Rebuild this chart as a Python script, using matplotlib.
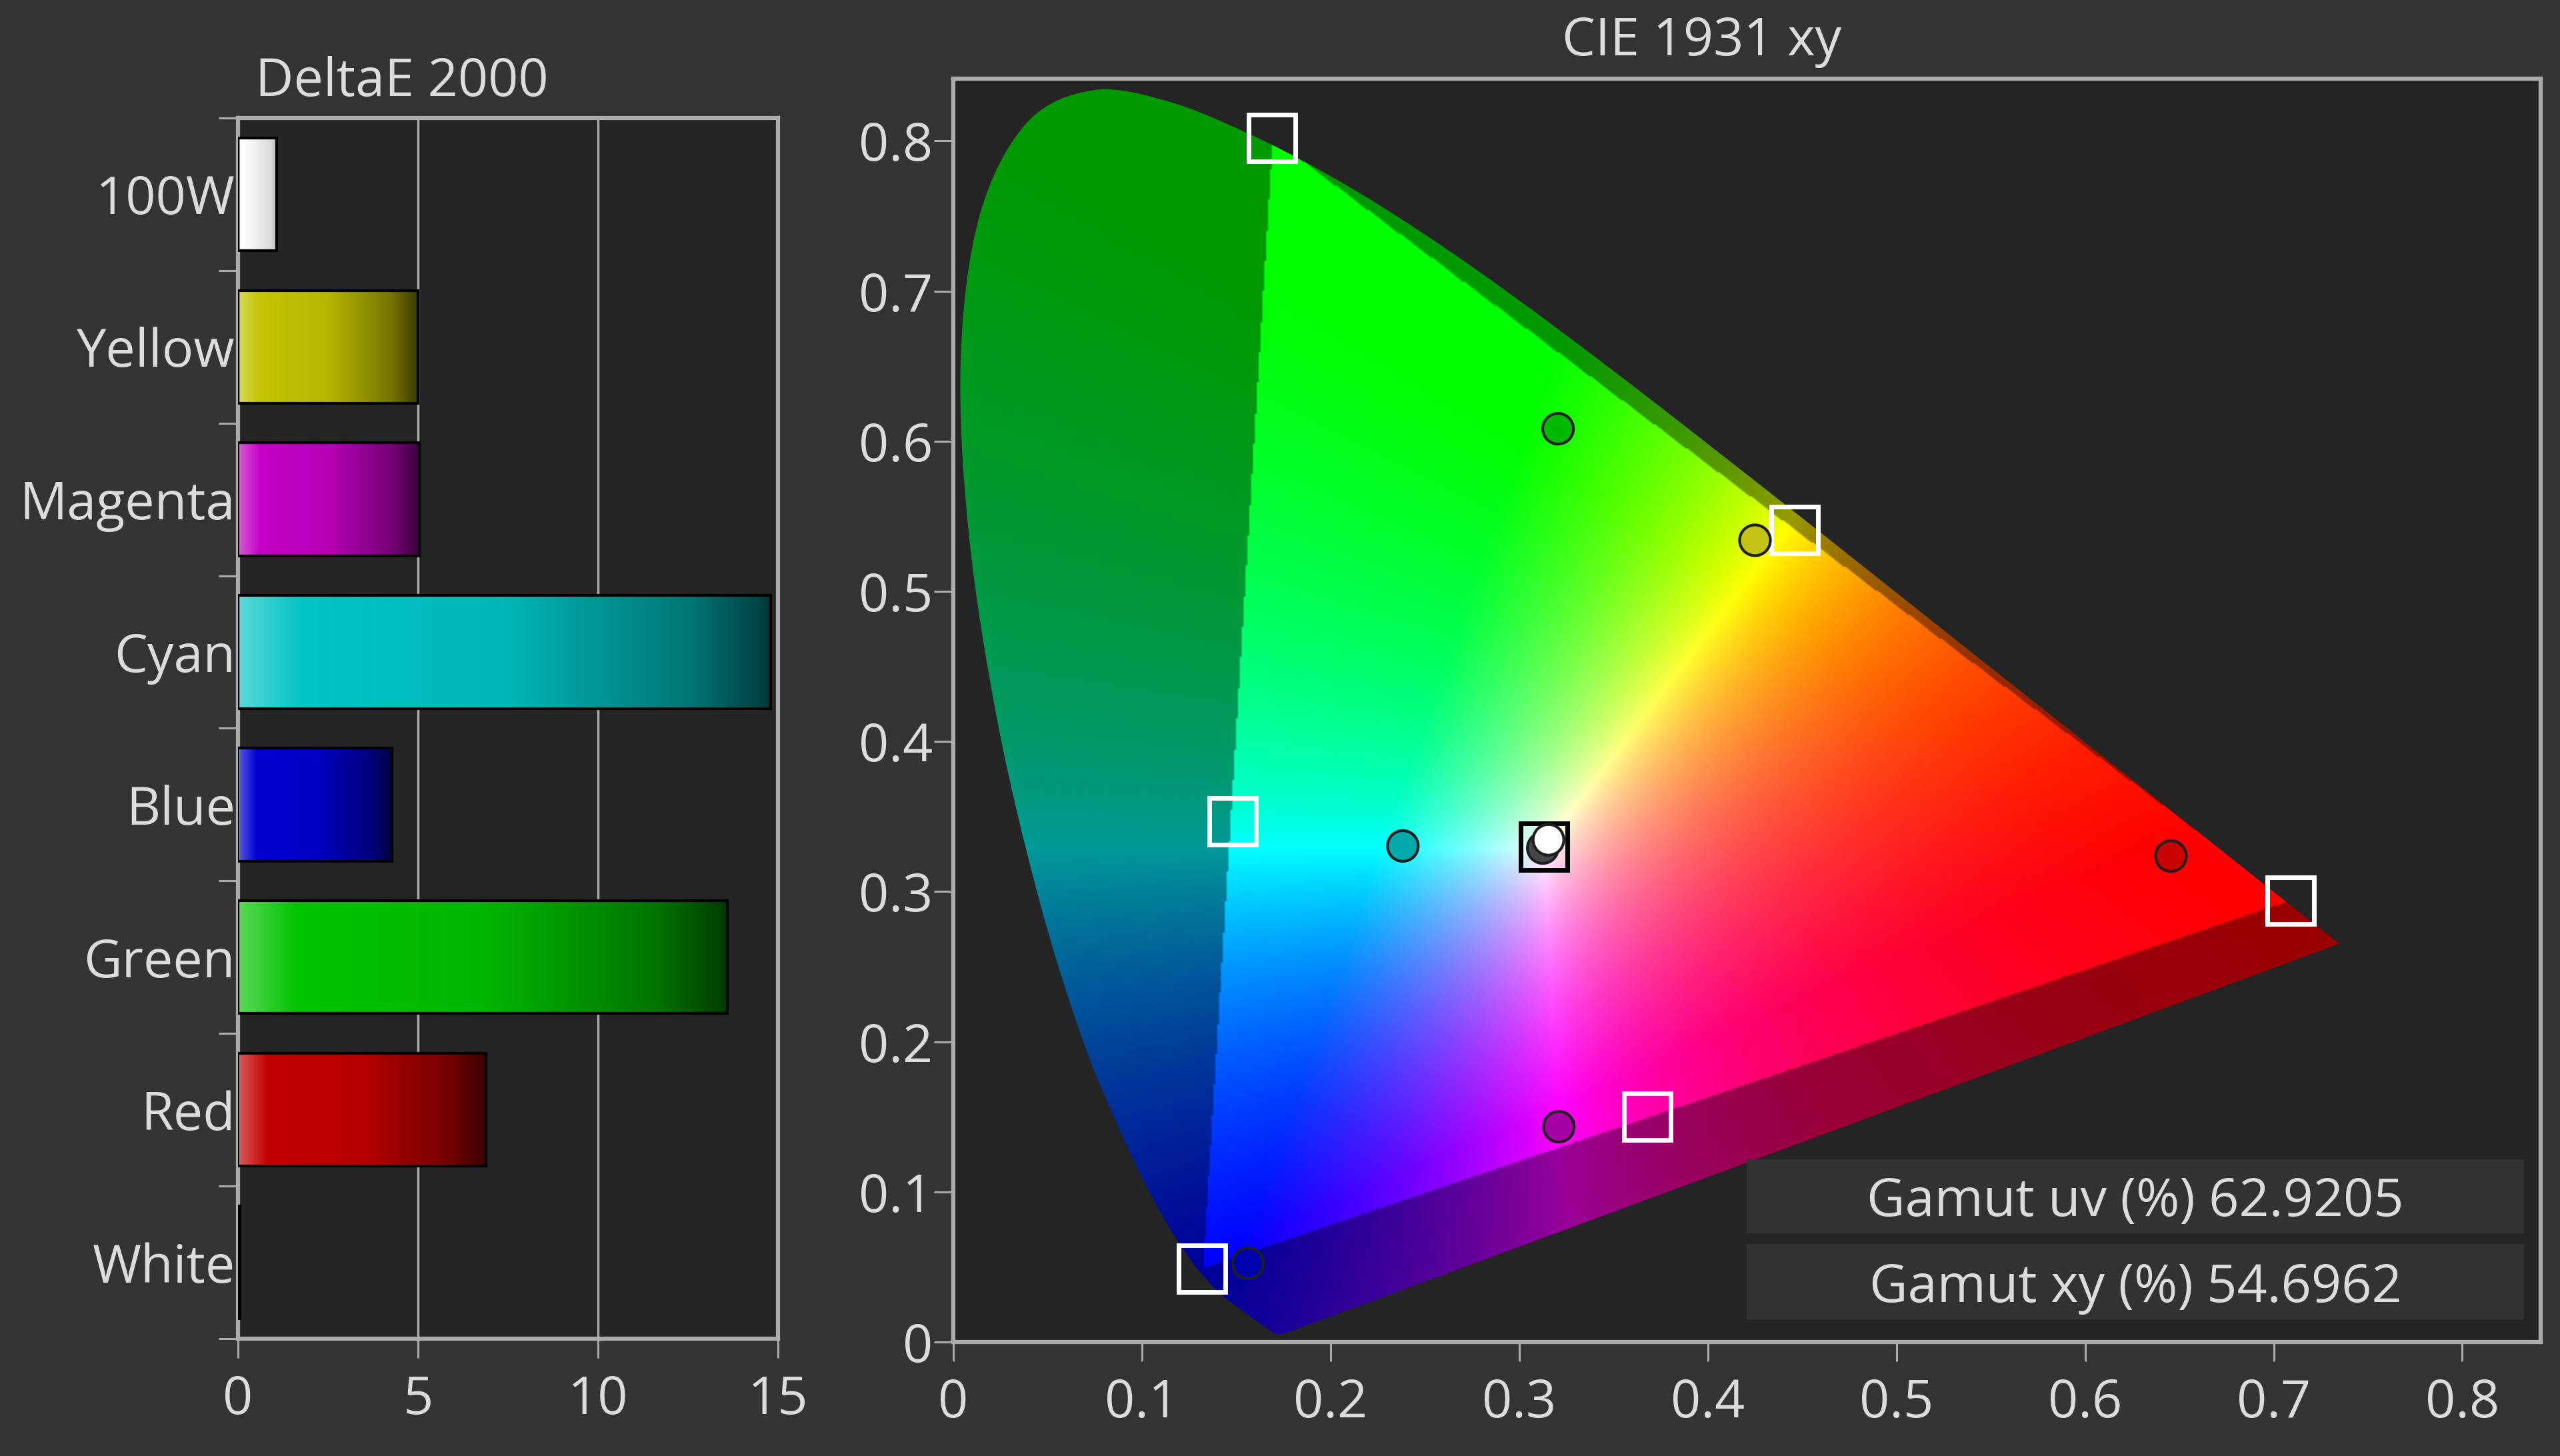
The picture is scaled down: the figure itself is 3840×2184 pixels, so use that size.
"""DeltaE 2000 bars + CIE 1931 xy gamut plot, dark calibration-report style."""

import numpy as np
import matplotlib
matplotlib.use("Agg")
import matplotlib.pyplot as plt
from matplotlib.colors import LinearSegmentedColormap
from matplotlib.patches import PathPatch, Rectangle
from matplotlib.path import Path

# --------------------------------------------------------------------- #
# Data
# --------------------------------------------------------------------- #
patches = ["100W", "Yellow", "Magenta", "Cyan", "Blue", "Green", "Red", "White"]
delta_e = [1.08, 5.0, 5.04, 14.8, 4.28, 13.6, 6.88, 0.05]
bar_rgb = [(255, 255, 255), (196, 196, 0), (196, 0, 196), (0, 196, 196),
           (0, 0, 210), (0, 196, 0), (196, 0, 0), (255, 255, 255)]

# target primaries / secondaries / white (squares)
target_names = ["Red", "Green", "Blue", "Cyan", "Magenta", "Yellow", "White"]
target_x = [0.709, 0.169, 0.132, 0.148, 0.368, 0.446, 0.313]
target_y = [0.294, 0.802, 0.049, 0.347, 0.150, 0.541, 0.330]

# measured points (circles)
meas_names = ["Red", "Green", "Blue", "Cyan", "Magenta", "Yellow", "White", "100W"]
meas_x = [0.6455, 0.3206, 0.1562, 0.2383, 0.3210, 0.4250, 0.3125, 0.3155]
meas_y = [0.3237, 0.6083, 0.0524, 0.3304, 0.1434, 0.5340, 0.3290, 0.3345]
meas_rgb = [(200, 0, 0), (0, 185, 0), (0, 0, 175), (0, 170, 170),
            (165, 0, 165), (195, 195, 20), (70, 70, 70), (255, 255, 255)]

gamut_uv = 62.9205
gamut_xy = 54.6962

# CIE 1931 2-degree spectral locus (380..700 nm)
locus_x = [0.1741, 0.1738, 0.1733, 0.1726, 0.1714, 0.1689, 0.1644, 0.1566,
           0.1440, 0.1355, 0.1241, 0.1096, 0.0913, 0.0687, 0.0454, 0.0235,
           0.0082, 0.0039, 0.0139, 0.0389, 0.0743, 0.1142, 0.1547, 0.1929,
           0.2296, 0.2658, 0.3016, 0.3373, 0.3731, 0.4087, 0.4441, 0.4788,
           0.5125, 0.5448, 0.5752, 0.6029, 0.6270, 0.6482, 0.6658, 0.6915,
           0.7079, 0.7190, 0.7260, 0.7300, 0.7334, 0.7347]
locus_y = [0.0050, 0.0049, 0.0048, 0.0048, 0.0051, 0.0069, 0.0109, 0.0177,
           0.0297, 0.0399, 0.0578, 0.0868, 0.1327, 0.2007, 0.2950, 0.4127,
           0.5384, 0.6548, 0.7502, 0.8120, 0.8338, 0.8262, 0.8059, 0.7816,
           0.7543, 0.7243, 0.6923, 0.6589, 0.6245, 0.5896, 0.5547, 0.5202,
           0.4866, 0.4544, 0.4242, 0.3965, 0.3725, 0.3514, 0.3340, 0.3083,
           0.2920, 0.2809, 0.2740, 0.2700, 0.2666, 0.2653]

# --------------------------------------------------------------------- #
# Style
# --------------------------------------------------------------------- #
FIG_BG = "#333333"
AX_BG = "#242424"
FG = "#dcdcdc"
SPINE = "#ababab"
FS = 57

plt.rcParams["font.family"] = ["Open Sans", "DejaVu Sans"]
plt.rcParams["font.size"] = FS

fig = plt.figure(figsize=(38.4, 21.84), dpi=100, facecolor=FIG_BG)


def style_axes(ax):
    ax.set_facecolor(AX_BG)
    for sp in ax.spines.values():
        sp.set_color(SPINE)
        sp.set_linewidth(4.5)
    ax.tick_params(which="both", colors=SPINE, labelcolor=FG, width=2.2,
                   length=21, labelsize=FS)


def smooth_locus_path(xs, ys):
    """Closed path: locus drawn as Catmull-Rom Bezier pieces, purple line straight."""
    p = np.column_stack([xs, ys])
    n = len(p)
    verts = [p[0]]
    codes = [Path.MOVETO]
    for i in range(n - 1):
        p0 = p[max(i - 1, 0)]
        p1, p2 = p[i], p[i + 1]
        p3 = p[min(i + 2, n - 1)]
        verts += [p1 + (p2 - p0) / 6, p2 - (p3 - p1) / 6, p2]
        codes += [Path.CURVE4] * 3
    verts.append(p[0])
    codes.append(Path.LINETO)
    verts.append(p[0])
    codes.append(Path.CLOSEPOLY)
    return Path(verts, codes)


# --------------------------------------------------------------------- #
# DeltaE bars
# --------------------------------------------------------------------- #
axb = fig.add_axes([0.0930, 0.0806, 0.2109, 0.8384])
style_axes(axb)

h = 0.74
for i, (v, rgb) in enumerate(zip(delta_e, bar_rgb)):
    base = np.array(rgb) / 255.0
    light = base + (1 - base) * 0.35
    dark = 0.7 if rgb == (255, 255, 255) else 0.3
    stops = [(0, light), (0.12, base), (0.5, base * 0.93),
             (0.85, base * min(dark + 0.3, 0.85)), (1, base * dark)]
    cmap = LinearSegmentedColormap.from_list(
        f"bar{i}", [(p, np.clip(c, 0, 1)) for p, c in stops])
    axb.imshow(np.linspace(0, 1, 256)[None, :], extent=[0, v, i + h / 2, i - h / 2],
               cmap=cmap, aspect="auto", interpolation="bilinear", zorder=2)
    axb.add_patch(Rectangle((0, i - h / 2), v, h, fill=False, ec="black",
                            lw=3, zorder=3))

axb.set_xlim(0, 15)
axb.set_ylim(len(patches) - 0.5, -0.5)
axb.set_xticks([0, 5, 10, 15])
axb.set_yticks(np.arange(-0.5, len(patches)))
axb.set_yticklabels([])
axb.set_yticks(np.arange(len(patches)), minor=True)
axb.set_yticklabels(patches, minor=True)
axb.tick_params(axis="y", which="minor", length=0, pad=3)
axb.tick_params(axis="x", pad=17)
axb.grid(axis="x", color=SPINE, lw=2.5, zorder=1)
axb.set_axisbelow(True)

fig.text(0.0997, 0.934, "DeltaE 2000", color=FG, fontsize=FS,
         ha="left", va="baseline")

# --------------------------------------------------------------------- #
# CIE 1931 xy
# --------------------------------------------------------------------- #
axc = fig.add_axes([0.3724, 0.0783, 0.6201, 0.8677])
style_axes(axc)
axc.set_xticks(np.arange(0, 0.81, 0.1))
axc.set_yticks(np.arange(0, 0.81, 0.1))
axc.set_xticklabels(["0"] + [f"{t:.1f}" for t in np.arange(0.1, 0.81, 0.1)])
axc.set_yticklabels(["0"] + [f"{t:.1f}" for t in np.arange(0.1, 0.81, 0.1)])
axc.tick_params(axis="y", pad=1)
axc.tick_params(axis="x", pad=17)

# chromaticity colour field, dimmed outside the target triangle
gx = np.linspace(0.0, 0.75, 751)
gy = np.linspace(0.001, 0.85, 850)
XX, YY = np.meshgrid(gx, gy)
xyz = np.stack([XX / YY, np.ones_like(XX), (1 - XX - YY) / YY], axis=-1)
m = np.array([[3.2406, -1.5372, -0.4986],
              [-0.9689, 1.8758, 0.0415],
              [0.0557, -0.2040, 1.0570]])
rgb = np.clip(xyz @ m.T, 0, None)
rgb /= np.maximum(rgb.max(axis=-1, keepdims=True), 1e-6)
tri = Path(np.column_stack([target_x[:3], target_y[:3]]))
inside = tri.contains_points(np.column_stack([XX.ravel(), YY.ravel()])).reshape(XX.shape)
rgb[~inside] *= 0.6

locus = PathPatch(smooth_locus_path(locus_x, locus_y), fc="none", ec="none",
                  transform=axc.transData)
axc.add_patch(locus)
img = axc.imshow(rgb, extent=[0, 0.75, 0.001, 0.85], origin="lower",
                 interpolation="bilinear", aspect="auto", zorder=1)
img.set_clip_path(locus)
axc.set_xlim(0, 0.8416)
axc.set_ylim(0, 0.8415)

# targets
sq_edge = ["white"] * (len(target_x) - 1) + ["black"]
for tx, ty, ec in zip(target_x, target_y, sq_edge):
    axc.plot(tx, ty, marker="s", ms=51, mfc="none", mec=ec, mew=5, zorder=4)

# measurements
axc.scatter(meas_x, meas_y, s=1100, c=[np.array(c) / 255 for c in meas_rgb],
            edgecolors="#1e1e1e", linewidths=3, zorder=5)

# gamut boxes
box_y = [(0.0860, 0.1446), (0.0179, 0.0776)]
labels = [f"Gamut uv (%) {gamut_uv:.4f}", f"Gamut xy (%) {gamut_xy:.4f}"]
for (y0, y1), lab in zip(box_y, labels):
    axc.add_patch(Rectangle((0.4998, y0), 0.4897, y1 - y0, transform=axc.transAxes,
                            fc="#323232", ec="none", zorder=6))
    axc.text(0.7446, (y0 + y1) / 2, lab, transform=axc.transAxes, color=FG,
             fontsize=FS, ha="center", va="center_baseline", zorder=7)

fig.text(0.6646, 0.962, "CIE 1931 xy", color=FG, fontsize=FS,
         ha="center", va="baseline")

fig.savefig("out.png", dpi=100, facecolor=FIG_BG)
